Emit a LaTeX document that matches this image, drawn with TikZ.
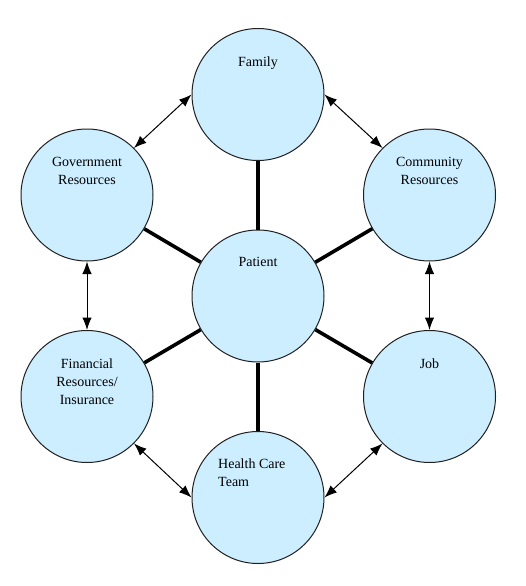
\documentclass[tikz,border=0pt]{standalone}
\usepackage{fontspec}
\setmainfont{Liberation Serif}
\usetikzlibrary{arrows.meta}
\definecolor{bubble}{HTML}{CCEEFF}
\definecolor{rim}{HTML}{202020}
\begin{document}
\begin{tikzpicture}[x=1pt,y=-1pt,
  bub/.style={circle,draw=rim,line width=1pt,fill=bubble,minimum size=132pt,inner sep=0pt},
  lbl/.style={anchor=north,inner sep=0pt,align=center,font=\fontsize{14pt}{18pt}\selectfont},
  spoke/.style={line width=3.6pt,black},
  link/.style={line width=1pt,black,{Latex[length=12.5pt,width=9.5pt]}-{Latex[length=12.5pt,width=9.5pt]}}]
\useasboundingbox (0,0) rectangle (525,586);
\node[bub] (fam) at (258,94.5) {};
\node[bub] (gov) at (87,195) {};
\node[bub] (com) at (429.5,195) {};
\node[bub] (pat) at (258,296) {};
\node[bub] (fin) at (87,396.5) {};
\node[bub] (job) at (429.5,396.5) {};
\node[bub] (hct) at (258,497.5) {};
% spokes
\draw[spoke] (pat) -- (fam);
\draw[spoke] (pat) -- (gov);
\draw[spoke] (pat) -- (com);
\draw[spoke] (pat) -- (fin);
\draw[spoke] (pat) -- (job);
\draw[spoke] (pat) -- (hct);
% ring arrows
\draw[link] (gov.45) -- (fam.west);
\draw[link] (com.135) -- (fam.east);
\draw[link] (gov.south) -- (fin.north);
\draw[link] (com.south) -- (job.north);
\draw[link] (fin.-45) -- (hct.west);
\draw[link] (job.-135) -- (hct.east);
% labels
\node[lbl] (tfam) at ([yshift=38pt]fam.center) {Family};
\node[lbl] (tgov) at ([yshift=38pt]gov.center) {Government\\Resources};
\node[lbl] (tcom) at ([yshift=38pt]com.center) {Community\\Resources};
\node[lbl] (tpat) at ([yshift=39pt]pat.center) {Patient};
\node[lbl] (tfin) at ([yshift=38pt]fin.center) {Financial\\Resources/\\Insurance};
\node[lbl] (tjob) at ([yshift=38pt]job.center) {Job};
\node[lbl,anchor=north west,align=left] (thct) at ([xshift=-40pt,yshift=39pt]hct.center) {Health Care\\Team};
\end{tikzpicture}
\end{document}
